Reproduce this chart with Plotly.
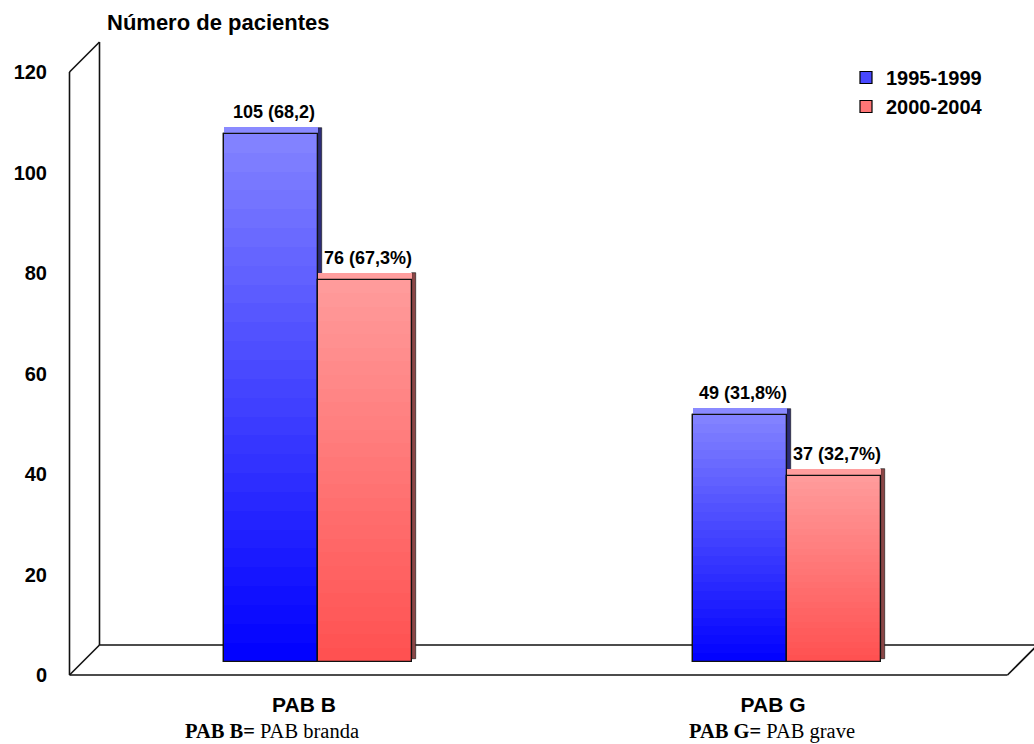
import plotly.graph_objects as go

# ---- data -------------------------------------------------------------
categories = ["PAB B", "PAB G"]
series_names = ["1995-1999", "2000-2004"]
values_1995_1999 = [105, 49]
values_2000_2004 = [76, 37]
labels_1995_1999 = ["105 (68,2)", "49 (31,8%)"]
labels_2000_2004 = ["76 (67,3%)", "37 (32,7%)"]
y_ticks = [0, 20, 40, 60, 80, 100, 120]
notes = ["<b>PAB B=</b> PAB branda", "<b>PAB G=</b> PAB grave"]
y_title = "Número de pacientes"

# ---- page / plot-area geometry (pixels) -------------------------------
W, H = 1034, 744
ML, MR, MT, MB = 60, 0, 40, 54
PX0, PX1 = ML, W - MR          # plot area left / right
PY0, PY1 = MT, H - MB          # plot area top / bottom

# front plane of the pseudo-3D box
ZERO_PY = 675                  # pixel row of value 0
TOP_PY = 72                    # pixel row of value 120
SY = (ZERO_PY - TOP_PY) / 120  # px per unit
CAT0_PX = 304                  # pixel column of the first category
SX = 469                       # px per category step

# depth offsets in pixels
BACK_DX, BACK_DY = 30, 30      # back wall relative to front plane
BAR_DX, BAR_DY = 14, 13.5      # plane the columns stand on
COL_DX, COL_DY = 4, 7          # thickness of each column

BAR_W = 0.2

def front_xrange():
    return [(PX0 - CAT0_PX) / SX, (PX1 - CAT0_PX) / SX]

def front_yrange():
    return [(ZERO_PY - PY1) / SY, (ZERO_PY - PY0) / SY]

def bar_xrange():
    return [(PX0 - CAT0_PX - BAR_DX) / SX, (PX1 - CAT0_PX - BAR_DX) / SX]

def bar_yrange():
    z = ZERO_PY - BAR_DY
    return [(z - PY1) / SY, (z - PY0) / SY]

def paper_x(px):
    return (px - PX0) / (PX1 - PX0)

def paper_y(py):
    return (PY1 - py) / (PY1 - PY0)

FONT = "Arial, Liberation Sans, sans-serif"
SERIF = "Times New Roman, Liberation Serif, serif"

styles = [
    dict(top=(132, 132, 255), bottom=(0, 0, 255), cap="#8a8aff",
         side="#2c2c78", legend="#4848ff", offset=-BAR_W),
    dict(top=(255, 156, 156), bottom=(255, 80, 80), cap="#ff9e9e",
         side="#8a4646", legend="#ff7676", offset=0.0),
]

def mix(c0, c1, t):
    return "rgb(%d,%d,%d)" % tuple(round(a + (b - a) * t) for a, b in zip(c0, c1))

fig = go.Figure()
x_pos = list(range(len(categories)))
cap_h = COL_DY / SY
side_w = COL_DX / SX
N_STEPS = 28

series_values = [values_1995_1999, values_2000_2004]
series_labels = [labels_1995_1999, labels_2000_2004]

for name, vals, st in zip(series_names, series_values, styles):
    common = dict(x=x_pos, width=BAR_W, offset=st["offset"],
                  xaxis="x2", yaxis="y2", hoverinfo="skip")
    # full column (legend entry)
    fig.add_trace(go.Bar(y=vals, name=name, marker=dict(
        color=st["legend"], line=dict(color="black", width=1.2)),
        showlegend=True, **common))
    # vertical shading of the front face
    for k in range(N_STEPS):
        t = (k + 0.5) / N_STEPS
        fig.add_trace(go.Bar(
            y=[v / N_STEPS for v in vals],
            base=[v * k / N_STEPS for v in vals],
            marker=dict(color=mix(st["bottom"], st["top"], t),
                        line=dict(width=0)),
            showlegend=False, **common))
    # right-hand side face
    fig.add_trace(go.Bar(
        x=x_pos, y=[v + cap_h * 0.5 for v in vals], base=[cap_h * 0.4] * len(vals),
        width=side_w, offset=st["offset"] + BAR_W,
        marker=dict(color=st["side"], line=dict(color="#111", width=0.6)),
        xaxis="x2", yaxis="y2", hoverinfo="skip", showlegend=False))
    # top face
    fig.add_trace(go.Bar(
        y=[cap_h] * len(vals), base=vals,
        marker=dict(color=st["cap"], line=dict(width=0)),
        showlegend=False, **common))
    # outline of the front face
    fig.add_trace(go.Bar(
        y=vals, marker=dict(color="rgba(0,0,0,0)",
                            line=dict(color="#111", width=1.3)),
        showlegend=False, **common))

# value labels above the columns
for vals, labs, st in zip(series_values, series_labels, styles):
    for i, (v, lab) in enumerate(zip(vals, labs)):
        fig.add_annotation(x=i + st["offset"] + BAR_W / 2, y=v + cap_h,
                           xref="x2", yref="y2", text="<b>%s</b>" % lab,
                           showarrow=False, xanchor="center", yanchor="bottom",
                           xshift=3, yshift=3,
                           font=dict(family=FONT, size=18, color="black"))

# box: left wall and floor, drawn on the front axes
bdx, bdy = BACK_DX / SX, BACK_DY / SY
xl, xr = -0.5, 1.5
ymax = y_ticks[-1]
frame = [
    (xl, 0, xl, ymax),
    (xl, ymax, xl + bdx, ymax + bdy),
    (xl + bdx, bdy, xl + bdx, ymax + bdy),
    (xl, 0, xl + bdx, bdy),
    (xl, 0, xr, 0),
    (xl + bdx, bdy, xr + bdx, bdy),
    (xr, 0, xr + bdx, bdy),
]
for x0, y0, x1, y1 in frame:
    fig.add_shape(type="line", x0=x0, y0=y0, x1=x1, y1=y1, xref="x", yref="y",
                  layer="below", line=dict(color="#111", width=1.6))

# axis title
fig.add_annotation(x=paper_x(218), y=paper_y(22), xref="paper", yref="paper",
                   text="<b>%s</b>" % y_title, showarrow=False,
                   xanchor="center", yanchor="middle",
                   font=dict(family=FONT, size=22, color="black"))

# explanatory notes under the categories
for px, note in zip([272, 772], notes):
    fig.add_annotation(x=paper_x(px), y=paper_y(731), xref="paper", yref="paper",
                       text=note, showarrow=False,
                       xanchor="center", yanchor="middle",
                       font=dict(family=SERIF, size=20.5, color="black"))

fig.update_layout(
    width=W, height=H, autosize=False,
    margin=dict(l=ML, r=MR, t=MT, b=MB, pad=0),
    paper_bgcolor="white", plot_bgcolor="white",
    barmode="overlay", bargap=0,
    showlegend=True,
    legend=dict(x=paper_x(846), y=paper_y(58), xanchor="left", yanchor="top",
                bgcolor="rgba(0,0,0,0)", tracegroupgap=0,
                font=dict(family=FONT, size=20, color="black", weight="bold")),
    xaxis=dict(range=front_xrange(), tickvals=x_pos, ticktext=categories,
               showgrid=False, zeroline=False, showline=False, ticks="",
               tickfont=dict(family=FONT, size=21, color="black", weight="bold")),
    yaxis=dict(range=front_yrange(), tickvals=y_ticks,
               showgrid=False, zeroline=False, showline=False, ticks="",
               ticklabelstandoff=12,
               tickfont=dict(family=FONT, size=20, color="black", weight="bold")),
    xaxis2=dict(range=bar_xrange(), overlaying="x", visible=False),
    yaxis2=dict(range=bar_yrange(), overlaying="y", visible=False),
)

fig.write_html("out.html")
